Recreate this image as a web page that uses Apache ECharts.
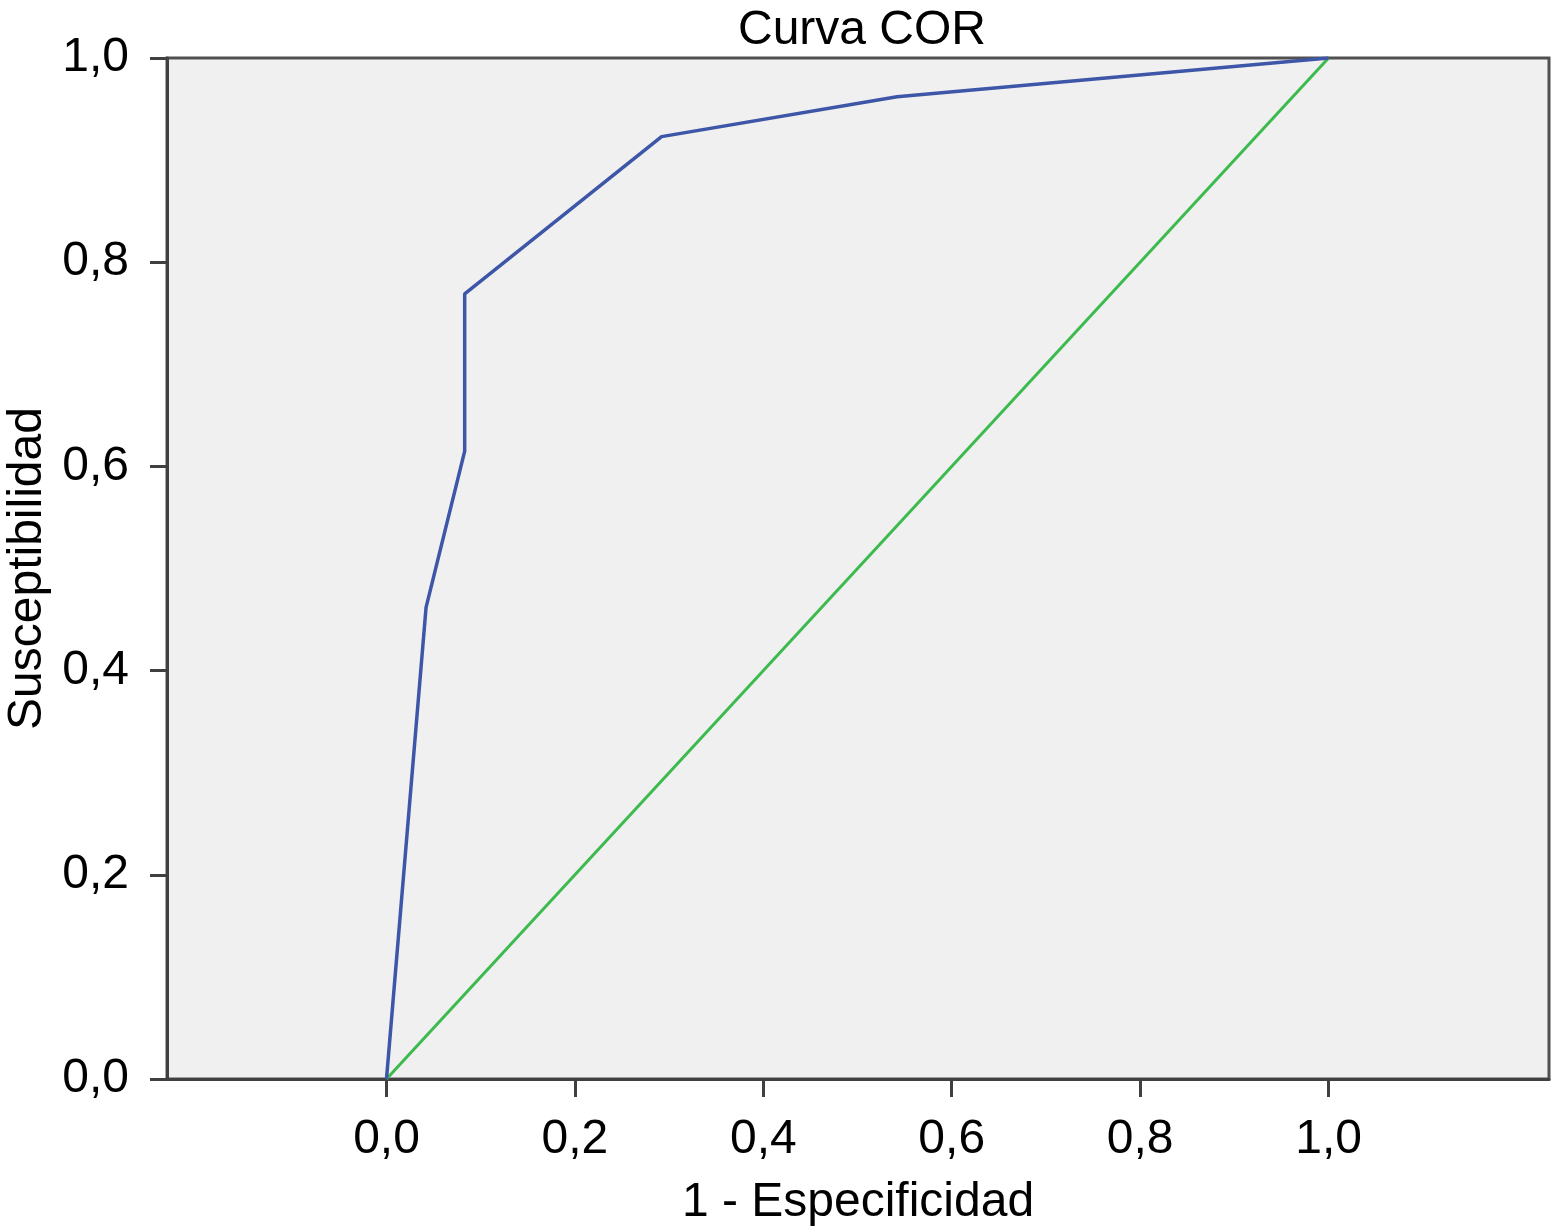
<!DOCTYPE html>
<html>
<head>
<meta charset="utf-8">
<script src="https://cdn.jsdelivr.net/npm/echarts@6/dist/echarts.min.js"></script>
<style>
    html, body { margin: 0; padding: 0; background: #fff; }
    #chart { width: 1555px; height: 1228px; }
</style>
</head>
<body>
<div id="chart"></div>
<script>
// ROC curve points (1 - specificity, sensitivity)
const rocX = [0, 0.042, 0.083, 0.083, 0.292, 0.542, 1]
const rocY = [0, 0.462, 0.615, 0.769, 0.923, 0.962, 1]
// reference diagonal
const refX = [0, 1]
const refY = [0, 1]
const xTicks = [0, 0.2, 0.4, 0.6, 0.8, 1.0]

const fmt = v => Number(v).toFixed(1).replace('.', ',')
const FONT = 'Liberation Sans'
const FS = 48

const chart = echarts.init(document.getElementById('chart'))

const option = {
    animation: false,
    title: {
        text: 'Curva COR',
        left: 857,
        textAlign: 'center',
        top: 2,
        textStyle: { fontFamily: FONT, fontSize: FS, fontWeight: 'normal', color: '#000' }
    },
    grid: {
        left: 167,
        right: 6,
        top: 58,
        bottom: 149,
        outerBoundsMode: 'none',
        containLabel: false,
        show: true,
        backgroundColor: '#f0f0f0',
        borderColor: '#505050',
        borderWidth: 3
    },
    xAxis: {
        type: 'value',
        min: -0.233,
        max: 1.234,
        name: '1 - Especificidad',
        nameLocation: 'middle',
        nameGap: 100,
        nameTextStyle: { fontFamily: FONT, fontSize: FS, color: '#000' },
        splitLine: { show: false },
        axisLine: { show: true, onZero: false, lineStyle: { color: '#404040', width: 3 } },
        axisTick: {
            show: true,
            customValues: xTicks,
            length: 18,
            lineStyle: { color: '#404040', width: 3 }
        },
        axisLabel: {
            customValues: xTicks,
            margin: 37,
            fontFamily: FONT,
            fontSize: FS,
            color: '#000',
            formatter: fmt
        }
    },
    yAxis: {
        type: 'value',
        min: 0,
        max: 1,
        interval: 0.2,
        name: 'Susceptibilidad',
        nameLocation: 'middle',
        nameGap: 114,
        nameRotate: 90,
        nameTextStyle: { fontFamily: FONT, fontSize: FS, color: '#000' },
        splitLine: { show: false },
        axisLine: { show: true, onZero: false, lineStyle: { color: '#404040', width: 3 } },
        axisTick: { show: true, length: 17, lineStyle: { color: '#404040', width: 3 } },
        axisLabel: {
            margin: 38,
            fontFamily: FONT,
            fontSize: FS,
            color: '#000',
            formatter: fmt
        }
    },
    series: [
        {
            type: 'line',
            data: refX.map((x, i) => [x, refY[i]]),
            showSymbol: false,
            lineStyle: { color: '#3dba4e', width: 3 },
            z: 2
        },
        {
            type: 'line',
            data: rocX.map((x, i) => [x, rocY[i]]),
            showSymbol: false,
            lineStyle: { color: '#3d56a8', width: 3.5 },
            z: 3
        }
    ]
}

chart.setOption(option)
</script>
</body>
</html>
